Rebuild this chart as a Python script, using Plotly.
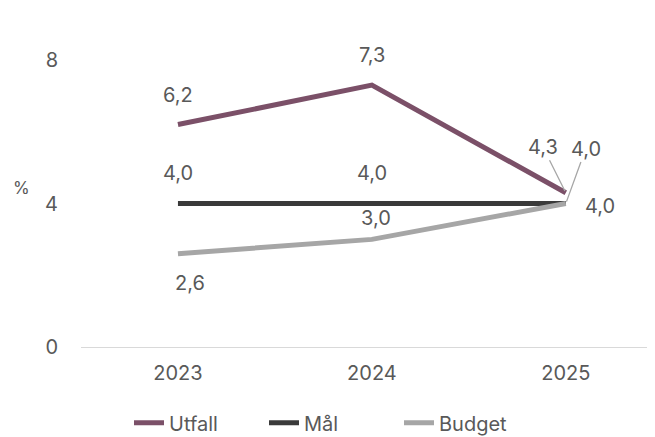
import plotly.graph_objects as go

years = ["2023", "2024", "2025"]
utfall = [6.2, 7.3, 4.3]
maal = [4.0, 4.0, 4.0]
budget = [2.6, 3.0, 4.0]
series_names = ["Utfall", "Mål", "Budget"]
colors = ["#7b5068", "#3a3a3a", "#a6a6a6"]
y_ticks = [0, 4, 8]

def fmt(v):
    return f"{v:.1f}".replace(".", ",")

fig = go.Figure()
for name, vals, col in zip(series_names, [utfall, maal, budget], colors):
    fig.add_trace(go.Scatter(x=years, y=vals, mode="lines", name=name,
                             line=dict(color=col, width=5)))

font_c = "#595959"
FS = 20
ann = []
offsets = {
    0: [(0, 30, False), (0, 30, False), (-23, -46, True)],
    1: [(0, 31, False), (0, 31, False), (20, -55, True)],
    2: [(12, -29, False), (4, 21, False), (34, -2, False)],
}
for si, vals in enumerate([utfall, maal, budget]):
    for pi, v in enumerate(vals):
        dx, dy, arrow = offsets[si][pi]
        if arrow:
            ann.append(dict(x=pi, y=v, text=fmt(v), showarrow=True, ax=dx, ay=dy,
                            arrowhead=0, arrowwidth=1.3, arrowcolor="#a6a6a6",
                            standoff=2, font=dict(size=FS, color=font_c)))
        else:
            ann.append(dict(x=pi, y=v, text=fmt(v), showarrow=False,
                            xshift=dx, yshift=dy, font=dict(size=FS, color=font_c)))
ann.append(dict(xref="paper", yref="paper", x=-0.103, y=0.554, text="%", showarrow=False,
                xanchor="center", yanchor="middle", font=dict(size=17, color=font_c)))

fig.update_layout(
    width=647, height=429,
    margin=dict(l=73, r=0, t=52, b=90),
    plot_bgcolor="white", paper_bgcolor="white",
    font=dict(family="Inter, Roboto, sans-serif", size=FS, color=font_c),
    xaxis=dict(type="category", range=[-0.5, 2.46], showgrid=False, showline=True,
               linecolor="#d9d9d9", linewidth=1, ticks="", ticklabelstandoff=8,
               tickfont=dict(size=FS, color=font_c)),
    yaxis=dict(range=[0, 8], tickvals=y_ticks, showgrid=False, zeroline=False,
               showline=False, ticks="", ticklabelstandoff=22,
               tickfont=dict(size=FS, color=font_c)),
    showlegend=True,
    legend=dict(orientation="h", x=0.5, xref="container", xanchor="center",
                y=0.033, yref="container", yanchor="middle",
                font=dict(size=FS, color=font_c), itemwidth=30,
                entrywidth=90, entrywidthmode="pixels"),
    annotations=ann,
)
fig.write_html("out.html")
